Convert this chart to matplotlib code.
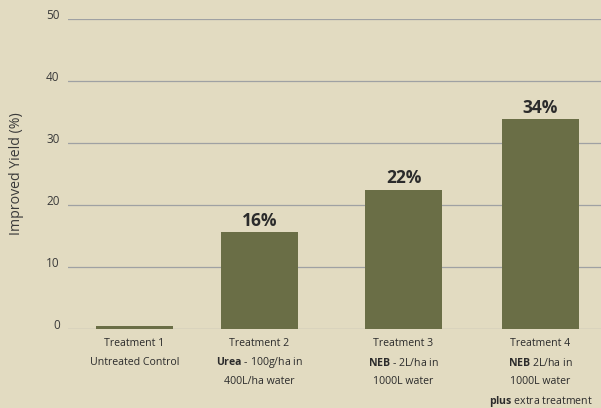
import matplotlib
matplotlib.use("Agg")
import matplotlib.pyplot as plt

# data
treatments = ["Treatment 1", "Treatment 2", "Treatment 3", "Treatment 4"]
details = [
    ["Untreated Control"],
    [r"$\mathbf{Urea}$ - 100g/ha in", "400L/ha water"],
    [r"$\mathbf{NEB}$ - 2L/ha in", "1000L water"],
    [r"$\mathbf{NEB}$ 2L/ha in", "1000L water", r"$\mathbf{plus}$ extra treatment"],
]
yields = [0.5, 15.7, 22.5, 33.8]
value_labels = ["", "16%", "22%", "34%"]
yticks = [0, 10, 20, 30, 40, 50]

# layout (bar centres in pixels from the axis left edge, the source spacing is uneven)
centres = [66.5, 191.5, 335.5, 472.5]
bar_w = 77

bg = "#e2dbc1"
bar_col = "#6a6e46"
txt = "#2b2b2b"

plt.rcParams["font.family"] = ["Open Sans", "DejaVu Sans"]
plt.rcParams["mathtext.fontset"] = "custom"
plt.rcParams["mathtext.rm"] = "Open Sans"
plt.rcParams["mathtext.bf"] = "Open Sans:bold"

fig = plt.figure(figsize=(6.01, 4.08), dpi=100, facecolor=bg)
ax = fig.add_axes([68 / 601, 1 - 329 / 408, 533 / 601, 310 / 408])
ax.set_facecolor(bg)
ax.set_xlim(0, 533)
ax.set_ylim(0, 50)

for y in yticks:
    ax.axhline(y, color="#9fa1a3", lw=0.9, zorder=1)

ax.bar(centres, yields, width=bar_w, color=bar_col, zorder=2)

for x, v, lab in zip(centres, yields, value_labels):
    if lab:
        ax.annotate(lab, (x, v), xytext=(0, 1.5), textcoords="offset points",
                    ha="center", va="bottom", fontsize=12.5, fontweight="bold", color=txt)

for s in ax.spines.values():
    s.set_visible(False)
ax.set_xticks([])
ax.set_yticks(yticks)
ax.tick_params(axis="y", length=0, pad=6, labelsize=8.5, labelcolor="#3a3a3a")
for t in ax.get_yticklabels():
    t.set_va("baseline")

ax.set_ylabel("Improved Yield (%)", fontsize=10.2, color="#3a3a3a", labelpad=16)

line_px = 19.5
for x, head, rest in zip(centres, treatments, details):
    lines = [head] + rest
    for i, line in enumerate(lines):
        ax.annotate(line, (x, 0), xytext=(0, -(14 + i * line_px) * 72 / 100),
                    textcoords="offset points", ha="center", va="center",
                    fontsize=7.6, color=txt, annotation_clip=False)

fig.savefig("out.png", dpi=100, facecolor=bg)
